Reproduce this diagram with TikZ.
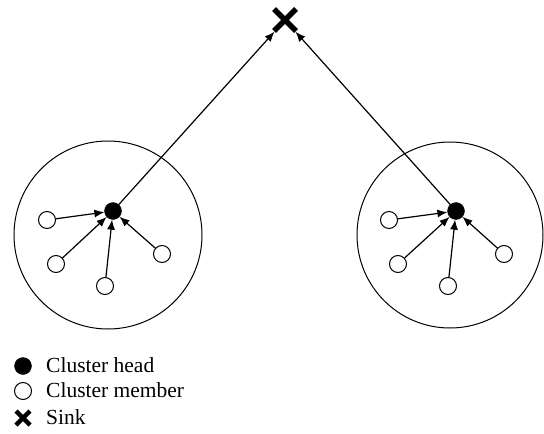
\documentclass[tikz,border=0pt]{standalone}
\usepackage{fontspec}
\setmainfont{Liberation Serif}
\usetikzlibrary{arrows.meta}
\begin{document}
\begin{tikzpicture}[x=1pt,y=-1pt,
  head/.style={circle,fill=black,draw=black,minimum size=17pt,inner sep=0pt},
  member/.style={circle,fill=white,draw=black,line width=1pt,minimum size=17pt,inner sep=0pt},
  cluster/.style={draw=black,line width=1pt},
  link/.style={draw=black,line width=1.2pt,-{Latex[length=10pt,width=8pt]}},
  label/.style={anchor=base west,font=\fontsize{21.5}{24}\selectfont,inner sep=0pt}]
\useasboundingbox (0,0) rectangle (544,434);
% clusters
\draw[cluster] (108,235) circle[radius=94];
\draw[cluster] (450,235) circle[radius=93];
% sink
\node[circle,minimum size=31pt,inner sep=0pt] (sink) at (285,20) {};
\draw[line width=5.5pt] (274,9) -- (296,31) (296,9) -- (274,31);
% left cluster
\node[head] (h1) at (113,211) {};
\node[member] (a1) at (47,220) {};
\node[member] (a2) at (56,264) {};
\node[member] (a3) at (105,286) {};
\node[member] (a4) at (162,254) {};
% right cluster
\node[head] (h2) at (456,211) {};
\node[member] (b1) at (389,220) {};
\node[member] (b2) at (398,264) {};
\node[member] (b3) at (448,286) {};
\node[member] (b4) at (504,254) {};
% links
\foreach \m in {a1,a2,a3,a4} \draw[link] (\m) -- (h1);
\foreach \m in {b1,b2,b3,b4} \draw[link] (\m) -- (h2);
\draw[link] (h1) -- (sink);
\draw[link] (h2) -- (sink);
% legend
\node[head] (lh) at (23,366) {};
\node[member] (lm) at (23,391) {};
\node[inner sep=0pt,minimum size=16pt] (ls) at (23,418) {};
\draw[line width=4.5pt] (16,411) -- (30,425) (30,411) -- (16,425);
\node[label] (th) at (46,372) {Cluster head};
\node[label] (tm) at (46,397) {Cluster member};
\node[label] (ts) at (46,424) {Sink};
\end{tikzpicture}
\end{document}
